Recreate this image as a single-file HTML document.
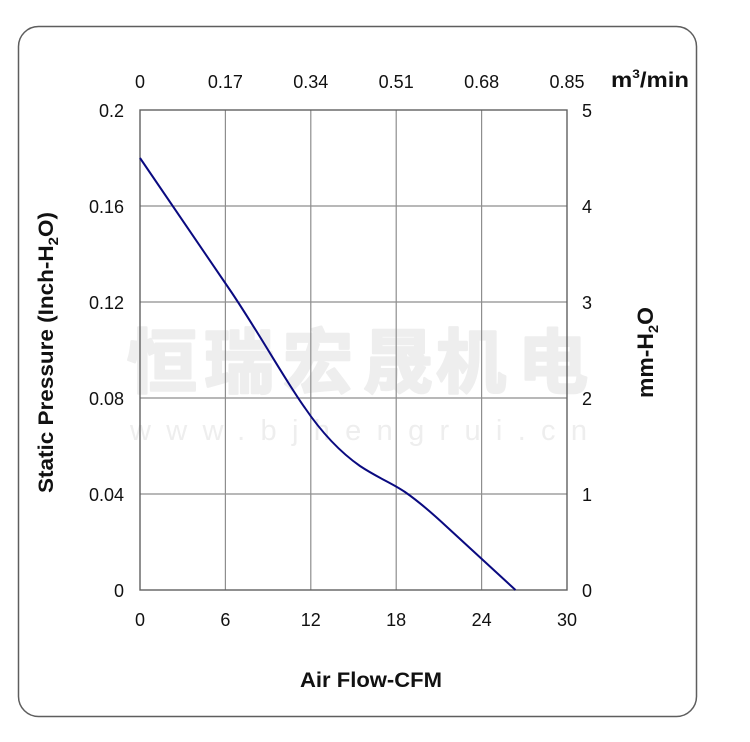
<!DOCTYPE html>
<html>
<head>
<meta charset="utf-8">
<style>
html,body{margin:0;padding:0;background:#fff;}
svg{display:block;}
text{font-family:"Liberation Sans",Arial,sans-serif;}
</style>
</head>
<body>
<svg width="750" height="742" viewBox="0 0 750 742" xmlns="http://www.w3.org/2000/svg">
  <rect x="0" y="0" width="750" height="742" fill="#fff"/>
  <!-- outer rounded frame -->
  <rect x="18.5" y="26.5" width="678" height="690" rx="20" ry="20" fill="none" stroke="#5e5e5e" stroke-width="1.5"/>

  <!-- watermark -->
  <g fill="#eeeeee" stroke="#eeeeee" stroke-width="2.5" stroke-linejoin="round" font-weight="bold" font-size="70" text-anchor="middle">
    <text x="162" y="387" style="font-family:'Liberation Sans','Noto Sans CJK SC',sans-serif">恒</text>
    <text x="239" y="387" style="font-family:'Liberation Sans','Noto Sans CJK SC',sans-serif">瑞</text>
    <text x="318" y="387" style="font-family:'Liberation Sans','Noto Sans CJK SC',sans-serif">宏</text>
    <text x="398" y="387" style="font-family:'Liberation Sans','Noto Sans CJK SC',sans-serif">晟</text>
    <text x="471" y="387" style="font-family:'Liberation Sans','Noto Sans CJK SC',sans-serif">机</text>
    <text x="553" y="387" style="font-family:'Liberation Sans','Noto Sans CJK SC',sans-serif">电</text>
  </g>
  <text x="130" y="440" font-size="29" fill="#eeeeee" textLength="457" lengthAdjust="spacing">www.bjhengrui.cn</text>

  <!-- grid -->
  <g stroke="#8e8e8e" stroke-width="1.2" fill="none">
    <line x1="225.4" y1="110" x2="225.4" y2="590"/>
    <line x1="310.8" y1="110" x2="310.8" y2="590"/>
    <line x1="396.2" y1="110" x2="396.2" y2="590"/>
    <line x1="481.6" y1="110" x2="481.6" y2="590"/>
    <line x1="140" y1="206" x2="567" y2="206"/>
    <line x1="140" y1="302" x2="567" y2="302"/>
    <line x1="140" y1="398" x2="567" y2="398"/>
    <line x1="140" y1="494" x2="567" y2="494"/>
  </g>
  <rect x="140" y="110" width="427" height="480" fill="none" stroke="#606060" stroke-width="1.4"/>

  <!-- curve -->
  <path d="M140,158 L232,293 C262,338 285,380 305,408 C322,433 340,452 360,466 C378,478 392,483 405,492 C418,501 432,513 447,527 L515.5,590" fill="none" stroke="#0a0a80" stroke-width="2" stroke-linejoin="round"/>

  <!-- left ticks -->
  <g font-size="18" fill="#111" text-anchor="end">
    <text x="124" y="117">0.2</text>
    <text x="124" y="213">0.16</text>
    <text x="124" y="309">0.12</text>
    <text x="124" y="405">0.08</text>
    <text x="124" y="501">0.04</text>
    <text x="124" y="597">0</text>
  </g>
  <!-- right ticks -->
  <g font-size="18" fill="#111" text-anchor="start">
    <text x="582" y="117">5</text>
    <text x="582" y="213">4</text>
    <text x="582" y="309">3</text>
    <text x="582" y="405">2</text>
    <text x="582" y="501">1</text>
    <text x="582" y="597">0</text>
  </g>
  <!-- top ticks -->
  <g font-size="18" fill="#111" text-anchor="middle">
    <text x="140" y="88">0</text>
    <text x="225.4" y="88">0.17</text>
    <text x="310.8" y="88">0.34</text>
    <text x="396.2" y="88">0.51</text>
    <text x="481.6" y="88">0.68</text>
    <text x="567" y="88">0.85</text>
  </g>
  <!-- bottom ticks -->
  <g font-size="18" fill="#111" text-anchor="middle">
    <text x="140" y="626">0</text>
    <text x="225.4" y="626">6</text>
    <text x="310.8" y="626">12</text>
    <text x="396.2" y="626">18</text>
    <text x="481.6" y="626">24</text>
    <text x="567" y="626">30</text>
  </g>

  <!-- titles -->
  <text x="611" y="87" font-size="21" font-weight="bold" fill="#111" textLength="78" lengthAdjust="spacingAndGlyphs">m<tspan font-size="12" dy="-9">3</tspan><tspan dy="9">/min</tspan></text>
  <text x="300" y="687" font-size="21" font-weight="bold" fill="#111" textLength="142" lengthAdjust="spacingAndGlyphs">Air Flow-CFM</text>
  <text transform="translate(53,493) rotate(-90)" font-size="21" font-weight="bold" fill="#111" textLength="281" lengthAdjust="spacingAndGlyphs">Static Pressure (Inch-H<tspan font-size="14" dy="5">2</tspan><tspan dy="-5">O)</tspan></text>
  <text transform="translate(653,398) rotate(-90)" font-size="22" font-weight="bold" fill="#111" textLength="91" lengthAdjust="spacingAndGlyphs">mm-H<tspan font-size="14" dy="5">2</tspan><tspan dy="-5">O</tspan></text>
</svg>
</body>
</html>
